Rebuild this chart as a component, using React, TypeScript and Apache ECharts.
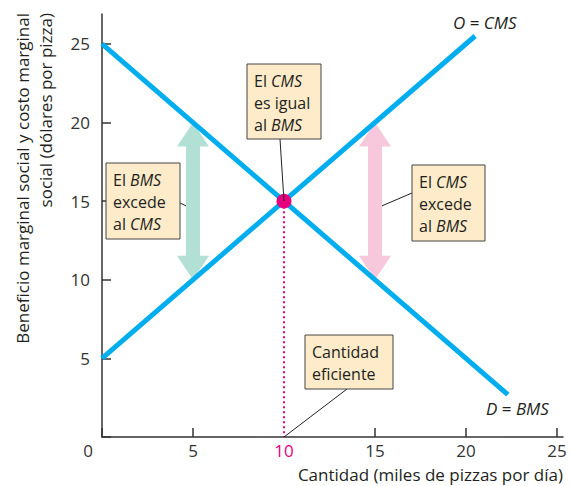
import React, { useEffect, useRef } from 'react';
import * as echarts from 'echarts';

const xTickValues = [0, 5, 10, 15, 20, 25];
const yTickValues = [0, 5, 10, 15, 20, 25];
const cmsLine = [[0, 5], [20.5, 25.5]];
const bmsLine = [[0, 25], [22.3, 2.7]];
const equilibrium = [[10, 15]];
const efficientDrop = [[10, 15], [10, 0]];
const bmsExcessArrow = [[5, 20, 10]];
const cmsExcessArrow = [[15, 20, 10]];

const FONT = '"Open Sans", "Noto Sans", sans-serif';
const TEXT = '#231f20';
const BLUE = '#00aeef';
const MAGENTA = '#e6007e';
const BOX_FILL = '#fdebc9';

const arrowSeries = (data: number[][], color: string) => ({
  type: 'custom',
  data,
  encode: { x: 0, y: [1, 2] },
  z: 1,
  renderItem: (_p: any, api: any) => {
    const x = api.value(0);
    const pt = api.coord([x, api.value(1)]);
    const pb = api.coord([x, api.value(2)]);
    const cx = pt[0];
    const hw = 16, sw = 7, hl = 24;
    const points = [
      [cx, pt[1]], [cx + hw, pt[1] + hl], [cx + sw, pt[1] + hl], [cx + sw, pb[1] - hl],
      [cx + hw, pb[1] - hl], [cx, pb[1]], [cx - hw, pb[1] - hl], [cx - sw, pb[1] - hl],
      [cx - sw, pt[1] + hl], [cx - hw, pt[1] + hl],
    ];
    return { type: 'polygon', shape: { points }, style: { fill: color } };
  },
});

const rich = {
  n: { fontFamily: FONT, fontSize: 16, fill: TEXT, lineHeight: 22 },
  i: { fontFamily: FONT, fontSize: 16, fill: TEXT, lineHeight: 22, fontStyle: 'italic' },
  N: { fontFamily: FONT, fontSize: 17, fill: TEXT },
  I: { fontFamily: FONT, fontSize: 17, fill: TEXT, fontStyle: 'italic' },
};

export default function App() {
  const ref = useRef<HTMLDivElement>(null);
  useEffect(() => {
    const chart = echarts.init(ref.current!, null, { renderer: 'svg' });
    chart.setOption({
      animation: false,
      grid: { left: 102, top: 14, width: 461, height: 423, outerBoundsMode: 'none' },
      xAxis: {
        type: 'value', min: 0, max: 25.33, interval: 5,
        splitLine: { show: false },
        axisLine: { lineStyle: { color: '#333', width: 1.5 } },
        axisTick: { inside: true, length: 9, customValues: xTickValues.filter(v => v !== 10), lineStyle: { color: '#333', width: 1.5 } },
        axisLabel: {
          customValues: xTickValues, margin: 5, color: '#333', fontFamily: FONT, fontSize: 17,
          formatter: (v: number) => (v === 0 ? '' : v === 10 ? '{m|10}' : String(v)),
          rich: { m: { color: MAGENTA, fontFamily: FONT, fontSize: 17 } },
        },
      },
      yAxis: {
        type: 'value', min: 0, max: 26.9, interval: 5,
        splitLine: { show: false },
        axisLine: { lineStyle: { color: '#333', width: 1.5 } },
        axisTick: { inside: true, length: 9, customValues: yTickValues, lineStyle: { color: '#333', width: 1.5 } },
        axisLabel: {
          customValues: yTickValues, margin: 12, color: '#333', fontFamily: FONT, fontSize: 17,
          formatter: (v: number) => (v === 0 ? '' : String(v)),
        },
      },
      series: [
        arrowSeries(bmsExcessArrow, '#b3e0d5'),
        arrowSeries(cmsExcessArrow, '#f7c8dc'),
        { type: 'line', data: efficientDrop, symbol: 'none', z: 2, lineStyle: { color: MAGENTA, width: 2, type: [2, 3] } },
        { type: 'line', data: cmsLine, symbol: 'none', z: 3, lineStyle: { color: BLUE, width: 5, cap: 'butt' } },
        { type: 'line', data: bmsLine, symbol: 'none', z: 3, lineStyle: { color: BLUE, width: 5, cap: 'butt' } },
        { type: 'scatter', data: equilibrium, symbolSize: 15, z: 5, itemStyle: { color: MAGENTA, opacity: 1 } },
      ],
    });

    const px = (p: number[]) => chart.convertToPixel({ gridIndex: 0 }, p) as number[];
    const eq = px([10, 15]);
    const eff = px([10, 0]);
    const g = px([5, 14.7]);
    const pk = px([15, 14.7]);

    const box = (x: number, y: number, w: number, h: number, text: string) => [
      { type: 'rect', shape: { x, y, width: w, height: h }, style: { fill: BOX_FILL, stroke: '#444', lineWidth: 1 }, z: 10 },
      { type: 'text', x: x + 7, y: y + 6, z: 11, style: { text, rich, verticalAlign: 'top', align: 'left', fontFamily: FONT, fontSize: 16, fill: TEXT, lineHeight: 22 } },
    ];
    const leader = (x1: number, y1: number, x2: number, y2: number) => ({
      type: 'line', z: 9, shape: { x1, y1, x2, y2 }, style: { stroke: '#222', lineWidth: 1 },
    });

    chart.setOption({
      graphic: [
        leader(180, 203, g[0] - 7, g[1]),
        ...box(106, 163, 74, 76, '{n|El }{i|BMS}\n{n|excede}\n{n|al }{i|CMS}'),
        leader(280, 139, eq[0], eq[1]),
        ...box(247, 64, 74, 75, '{n|El }{i|CMS}\n{n|es igual}\n{n|al }{i|BMS}'),
        leader(412, 193, pk[0] + 7, pk[1]),
        ...box(412, 165, 73, 76, '{n|El }{i|CMS}\n{n|excede}\n{n|al }{i|BMS}'),
        leader(347, 389, eff[0], eff[1]),
        ...box(305, 335, 88, 54, '{n|Cantidad}\n{n|eficiente}'),
        { type: 'text', x: 453, y: 22, style: { text: '{I|O}{N| = }{I|CMS}', rich, verticalAlign: 'middle', fontFamily: FONT, fontSize: 17 } },
        { type: 'text', x: 486, y: 408, style: { text: '{I|D}{N| = }{I|BMS}', rich, verticalAlign: 'middle', fontFamily: FONT, fontSize: 17 } },
        { type: 'text', x: 88, y: 450, style: { text: '0', align: 'center', verticalAlign: 'middle', fontFamily: FONT, fontSize: 17, fill: '#333' } },
        { type: 'text', x: 563, y: 474, style: { text: 'Cantidad (miles de pizzas por día)', align: 'right', verticalAlign: 'middle', fontFamily: FONT, fontSize: 17, fill: TEXT } },
        {
          type: 'text', x: 11, y: 13, rotation: Math.PI / 2,
          style: {
            text: 'Beneficio marginal social y costo marginal\nsocial (dólares por pizza)',
            align: 'right', verticalAlign: 'top', fontFamily: FONT, fontSize: 17, lineHeight: 23, fill: TEXT,
          },
        },
      ],
    });
    return () => chart.dispose();
  }, []);
  return <div ref={ref} style={{ position: 'absolute', left: 0, top: 0, width: 572, height: 486 }} />;
}
